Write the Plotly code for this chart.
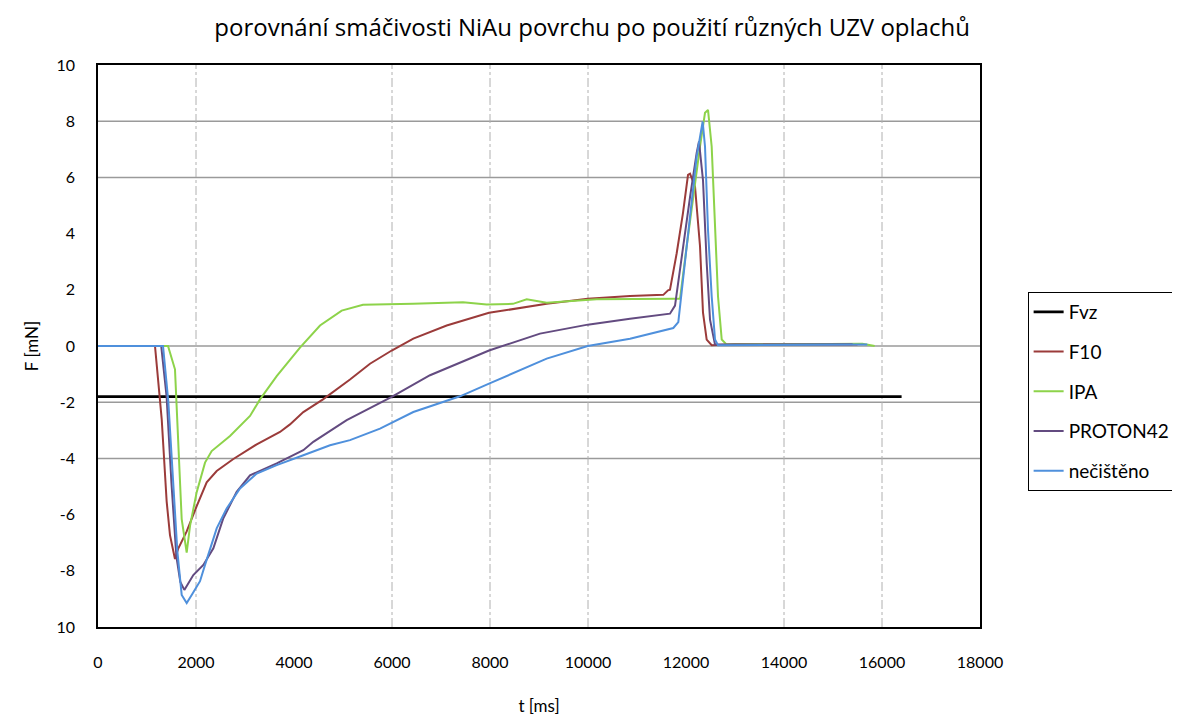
import plotly.graph_objects as go

# ---------------- data ----------------
fvz_t = [0, 16400]
fvz_y = [-1.8, -1.8]

f10_t = [0, 1163, 1300, 1401, 1469, 1571, 1640, 1810, 2014, 2218, 2422, 2755, 3239, 3714, 3918,
         4190, 4592, 5143, 5551, 5994, 6435, 7116, 7980, 9157, 9994, 10857, 11537, 11633, 11673,
         11810, 11939, 12041, 12082, 12184, 12286, 12347, 12422, 12524, 13000, 15500]
f10_y = [0, 0, -2.6, -5.53, -6.73, -7.58, -7.2, -6.6, -5.7, -4.85, -4.45, -4.03, -3.5, -3.06, -2.79,
         -2.35, -1.9, -1.19, -0.63, -0.16, 0.26, 0.73, 1.18, 1.5, 1.68, 1.78, 1.82, 1.98, 2.0,
         3.3, 4.74, 6.09, 6.13, 5.67, 3.55, 1.19, 0.23, 0.03, 0.06, 0.05]

ipa_t = [0, 1429, 1571, 1639, 1708, 1810, 1878, 2014, 2184, 2320, 2694, 3102, 3306, 3647, 4122,
         4531, 4973, 5408, 6429, 7449, 7932, 8469, 8650, 8749, 9157, 10177, 11735, 11878, 12014,
         12143, 12286, 12388, 12449, 12524, 12592, 12653, 12729, 12830, 15600, 15850]
ipa_y = [0, 0, -0.83, -3.8, -6.16, -7.35, -6.4, -5.2, -4.15, -3.74, -3.2, -2.49, -1.9, -1.07, -0.06,
         0.73, 1.26, 1.47, 1.5, 1.56, 1.48, 1.5, 1.62, 1.66, 1.54, 1.66, 1.68, 1.68, 3.55,
         5.3, 7.1, 8.3, 8.4, 7.1, 4.14, 1.77, 0.23, 0.05, 0.08, 0.0]

proton_t = [0, 1290, 1400, 1500, 1600, 1680, 1762, 1945, 2150, 2354, 2558, 2830, 3102, 3647, 4190,
            4394, 5075, 5994, 6776, 7980, 9020, 9994, 10857, 11673, 11776, 11939, 12082, 12218,
            12265, 12347, 12422, 12490, 12592, 15400]
proton_y = [0, 0, -1.8, -4.9, -7.5, -8.4, -8.68, -8.15, -7.79, -7.2, -6.13, -5.19, -4.6, -4.18, -3.71,
            -3.41, -2.64, -1.81, -1.04, -0.16, 0.44, 0.76, 0.97, 1.15, 1.44, 3.55, 5.3, 6.87,
            7.28, 5.9, 2.96, 0.94, 0.05, 0.06]

necisteno_t = [0, 1327, 1435, 1537, 1619, 1708, 1810, 1912, 2082, 2184, 2422, 2626, 2898, 3239, 3647,
               4190, 4735, 5143, 5755, 6435, 7388, 7980, 9157, 9994, 10857, 11741, 11843, 11939,
               12082, 12218, 12340, 12388, 12449, 12524, 12592, 12653, 15700]
necisteno_y = [0, 0, -1.98, -4.95, -7.3, -8.86, -9.15, -8.86, -8.37, -7.79, -6.49, -5.78, -5.07, -4.54, -4.24,
               -3.89, -3.53, -3.35, -2.94, -2.35, -1.79, -1.34, -0.45, 0.0, 0.26, 0.64, 0.85, 2.36,
               4.49, 6.74, 7.99, 7.1, 4.14, 1.77, 0.23, 0.03, 0.05]

x_tickvals = [0, 2000, 4000, 6000, 8000, 10000, 12000, 14000, 16000, 18000]
x_ticktext = ["0", "2000", "4000", "6000", "8000", "10000", "12000", "14000", "16000", "18000"]
y_tickvals = [10, 8, 6, 4, 2, 0, -2, -4, -6, -8, -10]
y_ticktext = ["10", "8", "6", "4", "2", "0", "-2", "-4", "-6", "-8", "10"]

# gridlines that are visible in the reference
h_grid = [8, 6, 0, -2, -4]
v_grid = [2000, 6000, 8000, 10000, 14000, 16000]

title_text = "porovnání smáčivosti NiAu povrchu po použití různých UZV oplachů"

FONT = "Lato, Noto Sans, sans-serif"
TITLE_FONT = "Open Sans, Noto Sans, sans-serif"

series = [
    ("Fvz", fvz_t, fvz_y, "#000000", 2.6),
    ("F10", f10_t, f10_y, "#9B3B3A", 2),
    ("IPA", ipa_t, ipa_y, "#8DD34A", 2),
    ("PROTON42", proton_t, proton_y, "#634B80", 2),
    ("nečištěno", necisteno_t, necisteno_y, "#4F90DC", 2),
]

fig = go.Figure()
for i, (name, t, y, col, w) in enumerate(series):
    fig.add_trace(go.Scatter(x=t, y=y, mode="lines", name=name, legendgroup=name,
                             line=dict(color=col, width=w)))

for v in h_grid:
    fig.add_shape(type="line", xref="paper", yref="y", x0=0, x1=1, y0=v, y1=v,
                  line=dict(color="#9A9A9A", width=1.5), layer="below")
for v in v_grid:
    fig.add_shape(type="line", xref="x", yref="paper", x0=v, x1=v, y0=0, y1=1,
                  line=dict(color="#B0B0B0", width=1, dash="dashdot"), layer="below")

fig.update_layout(
    width=1180, height=717,
    margin=dict(l=90, r=208, t=57, b=96),
    paper_bgcolor="white", plot_bgcolor="white",
    font=dict(family=FONT, size=16, color="#000000"),
    title=dict(text=title_text, x=0.495, xanchor="center", y=0.972, yanchor="middle",
               font=dict(family=TITLE_FONT, size=24, color="#000000")),
    legend=dict(x=1.054, xanchor="left", y=0.596, yanchor="top",
                bordercolor="#000000", borderwidth=1, bgcolor="white",
                font=dict(family=FONT, size=19), tracegroupgap=12,
                itemwidth=30),
    showlegend=True,
)

fig.update_xaxes(range=[0, 18000], tickvals=x_tickvals, ticktext=x_ticktext,
                 showgrid=False, zeroline=False, showline=True, linecolor="#000000",
                 linewidth=2, mirror=True, ticks="outside", ticklen=20, tickcolor="white",
                 tickfont=dict(family=FONT, size=16),
                 title=dict(text="t [ms]", font=dict(family=FONT, size=17), standoff=30))
fig.update_yaxes(range=[-10, 10], tickvals=y_tickvals, ticktext=y_ticktext,
                 showgrid=False, zeroline=False, showline=True, linecolor="#000000",
                 linewidth=1.5, mirror=True, ticks="outside", ticklen=18, tickcolor="white",
                 tickfont=dict(family=FONT, size=16),
                 title=dict(text="F [mN]", font=dict(family=FONT, size=17), standoff=14))

fig.write_html("out.html")
